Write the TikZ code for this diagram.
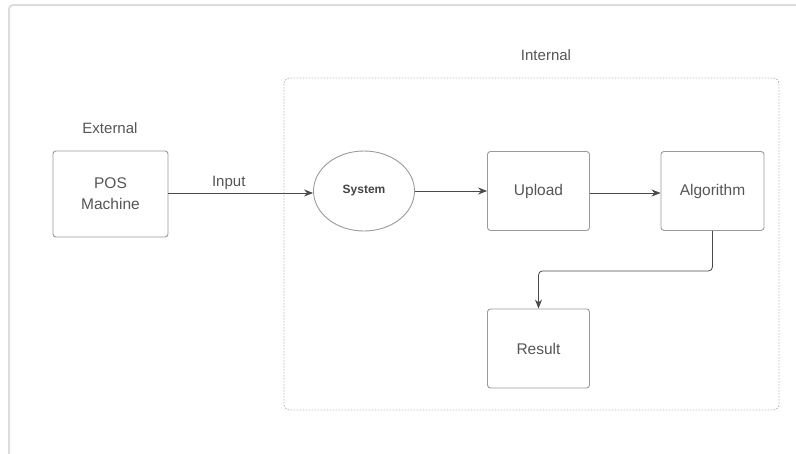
\documentclass[tikz,border=0pt]{standalone}
\usepackage{fontspec}
\setmainfont{Liberation Sans}
\usetikzlibrary{shapes.geometric,arrows.meta}
\definecolor{txt}{HTML}{555555}
\definecolor{boxc}{HTML}{9A9A9A}
\definecolor{arrc}{HTML}{4A4A4A}
\definecolor{framec}{HTML}{DDDDDD}
\definecolor{dashc}{HTML}{BBBBBB}
\tikzset{
  lbl/.style={text=txt, font=\fontsize{15}{17}\selectfont, inner sep=0pt},
  procbox/.style={draw=boxc, line width=0.9pt, rounded corners=3pt, text=txt,
    font=\fontsize{15.5}{21}\selectfont, align=center, inner sep=0pt},
  sysell/.style={draw=boxc, line width=0.9pt, ellipse, minimum width=101pt, minimum height=80pt,
    text=txt!80!black, font=\fontsize{12}{14}\selectfont\bfseries, inner sep=0pt},
  arr/.style={draw=arrc, line width=0.8pt, -{Stealth[length=9pt,width=7pt]}},
}
\begin{document}
\begin{tikzpicture}[x=1pt,y=-1pt]
\useasboundingbox (0,0) rectangle (796,453);
% outer frame (cropped)
\draw[framec, line width=2pt, rounded corners=4pt] (800,5) -- (9,5) -- (9,458);
% internal boundary
\draw[dashc, line width=0.9pt, dash pattern=on 1.5pt off 1.5pt, rounded corners=6pt] (284,78) rectangle (779,410);
% labels
\node[lbl] (ext) at (110,128) {External};
\node[lbl] (int) at (546,55) {Internal};
% nodes
\node[procbox, minimum width=115pt, minimum height=86pt] (pos) at (110.5,194) {POS\\Machine};
\node[sysell] (sys) at (364,191) {System};
\node[procbox, minimum width=102pt, minimum height=79pt] (upl) at (538.5,191) {Upload};
\node[procbox, minimum width=103pt, minimum height=79pt] (alg) at (712.5,191) {Algorithm};
\node[procbox, minimum width=102pt, minimum height=79pt] (res) at (538.5,348.5) {Result};
% connectors
\draw[arr] (pos.east |- 0,193) -- node[lbl, above=3pt, xshift=-12pt] (inp) {Input} (sys.west |- 0,193);
\draw[arr] (sys.east) -- (upl.west);
\draw[arr] (upl.east |- 0,193) -- (alg.west |- 0,193);
\draw[arr, rounded corners=4pt] (alg.south) -- ++(0,40) -| (res.north);
\end{tikzpicture}
\end{document}
